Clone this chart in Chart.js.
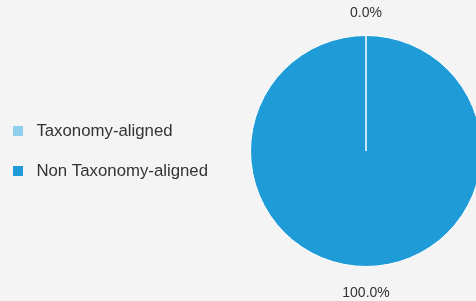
<!DOCTYPE html>
<html>
<head>
<meta charset="utf-8">
<script src="https://cdn.jsdelivr.net/npm/chart.js@4"></script>
<style>
  html, body { margin: 0; padding: 0; background: #f4f4f4; overflow: hidden; }
  #wrap { position: relative; width: 514px; height: 301px; }
</style>
</head>
<body>
<div id="wrap"><canvas id="myChart"></canvas></div>
<script>
const labels = ["Taxonomy-aligned", "Non Taxonomy-aligned"];
const values = [0, 100];
const colors = ["#8ecfee", "#1f9bd7"];

const ctx = document.getElementById("myChart").getContext("2d");

// little swatch: square on the left, empty room on the right (gives the wider gap before the text)
function swatch(color) {
  const c = document.createElement("canvas");
  c.width = 15;
  c.height = 10;
  const g = c.getContext("2d");
  g.fillStyle = color;
  g.fillRect(0, 0, 10, 10);
  return c;
}

// percentage labels outside the slices
const outsideLabels = {
  id: "outsideLabels",
  afterDatasetsDraw(chart) {
    const meta = chart.getDatasetMeta(0);
    const data = chart.data.datasets[0].data;
    const total = data.reduce((a, b) => a + b, 0);
    const c = chart.ctx;
    c.save();
    c.font = "14px 'Liberation Sans', Arial, sans-serif";
    c.fillStyle = "#333333";
    c.textAlign = "center";
    c.textBaseline = "middle";
    meta.data.forEach((arc, i) => {
      const p = arc.getProps(["x", "y", "startAngle", "endAngle", "outerRadius"], true);
      const mid = (p.startAngle + p.endAngle) / 2;
      const r = p.outerRadius + 24.5;
      const tx = p.x + Math.cos(mid) * r;
      const ty = p.y + Math.sin(mid) * r + 2.5;
      const pct = (data[i] / total * 100).toFixed(1) + "%";
      c.fillText(pct, tx, ty);
    });
    c.restore();
  }
};

const myChart = new Chart(ctx, {
  type: "pie",
  data: {
    labels: labels,
    datasets: [{
      data: values,
      backgroundColor: colors,
      borderColor: "#ffffff",
      borderWidth: 1
    }]
  },
  options: {
    responsive: true,
    maintainAspectRatio: false,
    animation: false,
    layout: { padding: { top: 35, bottom: 34, left: -10.2, right: 0 } },
    plugins: {
      tooltip: { enabled: false },
      legend: {
        position: "left",
        labels: {
          usePointStyle: true,
          pointStyleWidth: 15,
          padding: 23.2,
          color: "#333333",
          font: { family: "'Liberation Sans', Arial, sans-serif", size: 16.8 },
          generateLabels(chart) {
            const items = Chart.overrides.pie.plugins.legend.labels.generateLabels(chart);
            return items.map(item => {
              item.pointStyle = swatch(item.fillStyle);
              item.hidden = false;
              return item;
            });
          }
        }
      }
    }
  },
  plugins: [outsideLabels]
});
</script>
</body>
</html>
